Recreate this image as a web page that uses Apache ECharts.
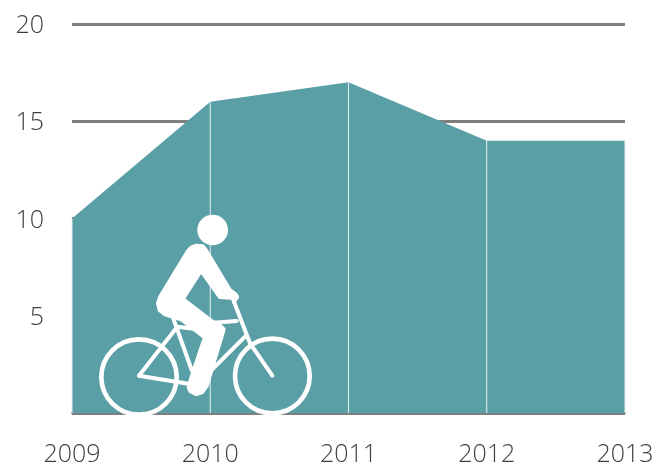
<!DOCTYPE html>
<html><head><meta charset="utf-8">
<style>html,body{margin:0;padding:0;background:#fff}#c{width:659px;height:468px}</style>
<script src="https://cdn.jsdelivr.net/npm/echarts@6/dist/echarts.min.js"></script>
</head><body><div id="c"></div>
<script>
const categories = ['2009','2010','2011','2012','2013'];
const values = [10,16,17,14,14];
const yTicks = [0,5,10,15,20];
const teal = '#5a9ea6', gray = '#7f7f7f', text = '#3f3f3f';
const font = '"Open Sans"';

const chart = echarts.init(document.getElementById('c'), null, {renderer:'canvas'});
const stroke = (points, w) => ({type:'polyline', z:10, shape:{points}, style:{fill:null, stroke:'#fff', lineWidth:w, lineCap:'round', lineJoin:'round'}});
const bodyOutline = [[294,155],[304,144],[320,138],[338,140],[346,150],[418,270],[436,284],[440,292],[432,294],[420,292],[390,290],[333,210],[277,297],[365,365],[390,378],[400,388],[398,395],[349,558],[336,576],[318,581],[302,573],[297,562],[306,530],[346,412],[274,357],[225,342],[210,330],[205,310],[212,290]];
chart.setOption({
  animation:false,
  grid:{left:72,right:34,top:24,bottom:55},
  xAxis:{type:'category',data:categories,boundaryGap:false,
    axisLine:{show:true,lineStyle:{color:gray,width:2}},axisTick:{show:false},
    axisLabel:{color:text,fontFamily:font,fontWeight:300,fontSize:25,margin:29,interval:0,hideOverlap:false},
    splitLine:{show:false}},
  yAxis:{type:'value',min:0,max:20,interval:5,
    axisLine:{show:false},axisTick:{show:false},
    axisLabel:{margin:28,
      formatter:v=>(v===yTicks[0]?'':'{t|'+v+'}'),
      rich:{t:{color:text,fontFamily:font,fontWeight:300,fontSize:25,padding:[4,0,0,0]}}},
    splitLine:{show:true,lineStyle:{color:gray,width:3}}},
  series:[
    {type:'line',data:values,symbol:'none',lineStyle:{width:0},areaStyle:{color:teal,opacity:1},z:2,clip:false},
    {type:'bar',data:values,barWidth:1,itemStyle:{color:'#e4eff0'},z:3,clip:false}
  ],
  graphic:[{
    type:'group',x:90,y:200,scaleX:1/3,scaleY:1/3,z:10,
    children:[
      {type:'circle',z:10,shape:{cx:368,cy:90,r:46},style:{fill:'#fff'}},
      {type:'polygon',z:10,shape:{points:bodyOutline},style:{fill:'#fff',stroke:'#fff',lineWidth:14,lineJoin:'round'}},
      stroke([[147,527],[262,380],[340,390]],12),
      stroke([[147,527],[300,552]],12),
      stroke([[248,350],[305,510]],12),
      stroke([[370,368],[440,363]],12),
      stroke([[430,300],[480,430],[547,527]],12),
      stroke([[465,410],[360,515]],12),
      stroke([[425,285],[442,290],[432,308]],10),
      {type:'circle',z:10,shape:{cx:147,cy:531,r:113},style:{fill:null,stroke:'#fff',lineWidth:14}},
      {type:'circle',z:10,shape:{cx:547,cy:528,r:112},style:{fill:null,stroke:'#fff',lineWidth:14}}
    ]
  }]
});
</script></body></html>
